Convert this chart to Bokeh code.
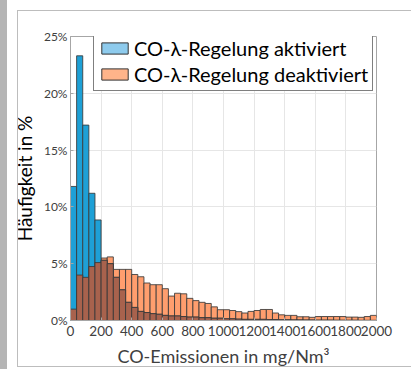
import numpy as np
from bokeh.plotting import figure
from bokeh.models import (Legend, LegendItem, FixedTicker, PrintfTickFormatter,
                          Range1d)
from bokeh.embed import file_html
from bokeh.resources import INLINE

# ---- data ----
bin_width = 40
bin_starts = list(range(0, 2000, 40))
activated = [11.8, 23.3, 17.2, 11.2, 8.85, 5.3, 5.0, 3.8, 2.7, 1.6,
             1.15, 0.8, 0.7, 0.6, 0.55, 0.45, 0.4, 0.4, 0.35, 0.3,
             0.3, 0.25, 0.25, 0.2, 0.2, 0.15, 0.15, 0.12, 0.1, 0.1,
             0.1, 0.1, 0.08, 0.08, 0.06, 0.06, 0.05, 0.05, 0.04, 0.04,
             0.03, 0.03, 0.03, 0.02, 0.02, 0.02, 0.02, 0.01, 0.01, 0.01]
deactivated = [1.0, 4.0, 3.8, 4.75, 5.1, 5.5, 5.6, 4.5, 4.5, 4.5,
               4.05, 3.85, 3.3, 3.15, 3.15, 2.8, 2.15, 2.4, 2.35, 1.95,
               1.75, 1.6, 1.5, 1.2, 0.95, 0.95, 0.88, 0.78, 0.66, 0.8,
               0.88, 0.97, 0.97, 0.66, 0.5, 0.45, 0.45, 0.33, 0.33, 0.28,
               0.35, 0.35, 0.35, 0.35, 0.35, 0.3, 0.3, 0.28, 0.35, 0.45]
x_ticks = list(range(0, 2001, 200))
y_ticks = [0, 5, 10, 15, 20, 25]
labels = ["CO-\u03bb-Regelung aktiviert", "CO-\u03bb-Regelung deaktiviert"]

left = np.array(bin_starts, dtype=float)
right = left + bin_width
a = np.array(activated)
d = np.array(deactivated)
overlap = np.minimum(a, d)

FONT = "Lato"
p = figure(width=411, height=369, output_backend="svg", toolbar_location=None,
           x_range=Range1d(0, 2000), y_range=Range1d(0, 25),
           min_border_left=70, min_border_right=35, min_border_top=36,
           min_border_bottom=44)
p.background_fill_color = "white"
p.border_fill_color = "white"
p.outline_line_color = "#a6a6a6"
p.outline_line_width = 1

line_c = "#3a3a3a"
p.quad(left=left, right=right, bottom=0, top=d, fill_color="#ff9e6e",
       line_color=line_c, line_alpha=0.85, line_width=1)
p.quad(left=left, right=right, bottom=0, top=a, fill_color="#1ea0d6",
       line_color=line_c, line_alpha=0.85, line_width=1)
p.quad(left=left, right=right, bottom=0, top=overlap, fill_color="#a8624d",
       line_color=line_c, line_alpha=0.85, line_width=1)

# legend swatches (zero-size quads, only used for the legend glyphs)
r1 = p.quad(left=left[:1], right=left[:1], bottom=0, top=0,
            fill_color="#8ecbed", line_color="#333333", line_width=1)
r2 = p.quad(left=left[:1], right=left[:1], bottom=0, top=0,
            fill_color="#ffb48a", line_color="#333333", line_width=1)
legend = Legend(items=[LegendItem(label=labels[0], renderers=[r1]),
                       LegendItem(label=labels[1], renderers=[r2])],
                location=(23, 229))
legend.label_text_font = FONT
legend.label_text_font_size = "20px"
legend.label_text_color = "black"
legend.glyph_width = 33
legend.glyph_height = 14
legend.label_height = 21
legend.label_standoff = 3
legend.spacing = 2
legend.padding = 4
legend.margin = 0
legend.border_line_color = "black"
legend.border_line_width = 1
legend.background_fill_alpha = 1
p.add_layout(legend, "center")

# grids
for g in (p.xgrid, p.ygrid):
    g.grid_line_color = "#e6e6e6"
    g.grid_line_width = 1
p.xgrid.ticker = FixedTicker(ticks=x_ticks)
p.ygrid.ticker = FixedTicker(ticks=y_ticks)

# axes
xa = p.xaxis[0]
xa.ticker = FixedTicker(ticks=x_ticks)
xa.axis_label = "CO-Emissionen in mg/Nm\u00b3"
ya = p.yaxis[0]
ya.ticker = FixedTicker(ticks=y_ticks)
ya.formatter = PrintfTickFormatter(format="%d%%")
ya.axis_label = "H\u00e4ufigkeit in %"
for ax in (xa, ya):
    ax.axis_line_color = "#a6a6a6"
    ax.major_tick_line_color = "#a6a6a6"
    ax.major_tick_in = 3
    ax.major_tick_out = 0
    ax.minor_tick_line_color = None
    ax.major_label_text_font = FONT
    ax.major_label_text_color = "#404040"
    ax.axis_label_text_font = FONT
    ax.axis_label_text_font_style = "normal"
xa.major_label_text_font_size = "13.5px"
xa.major_label_standoff = 5
xa.axis_label_text_font_size = "18px"
xa.axis_label_text_color = "#404040"
xa.axis_label_standoff = 6
ya.major_label_text_font_size = "12px"
ya.major_label_standoff = 3
ya.axis_label_text_font_size = "19px"
ya.axis_label_text_color = "black"
ya.axis_label_standoff = 5

html = file_html(p, INLINE)
# page decorations: grey strip at the left edge and the outer chart-area frame
deco = ('<div style="position:fixed;left:0;top:0;width:7px;height:369px;'
        'background:#b5b5b5;z-index:1000;pointer-events:none"></div>'
        '<div style="position:fixed;left:17px;top:10px;width:400px;height:355px;'
        'border:1px solid #bdbdbd;z-index:1000;pointer-events:none"></div>')
html = html.replace("</body>", deco + "</body>", 1)
open("out.html", "w").write(html)
